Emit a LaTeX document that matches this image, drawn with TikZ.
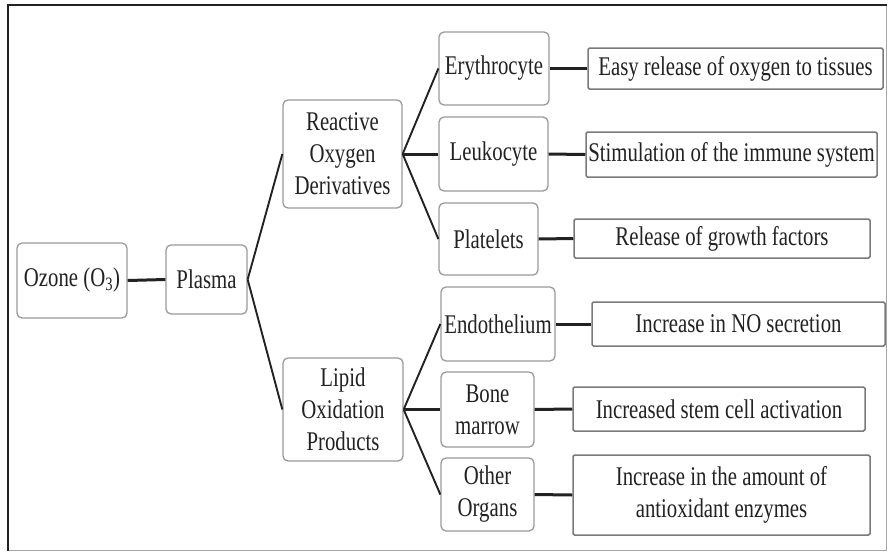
\documentclass[tikz,border=0pt]{standalone}
\usepackage{fontspec}
\setmainfont{Liberation Serif}[FakeStretch=0.77]
\definecolor{txt}{HTML}{222222}
\definecolor{boxline}{HTML}{9A9A9A}
\definecolor{leafline}{HTML}{7A7A7A}
\begin{document}
\begin{tikzpicture}[x=1pt,y=-1pt,
  every node/.style={font=\fontsize{27}{32}\selectfont, text=txt, align=center, inner sep=1pt},
  mid/.style={draw=boxline, line width=1.3pt, rounded corners=5pt, fill=white},
  leaf/.style={draw=leafline, line width=1.5pt, rounded corners=1.5pt, fill=white},
  thick conn/.style={draw=txt, line width=3pt},
  diag conn/.style={draw=txt, line width=1.9pt}]
\useasboundingbox (0,0) rectangle (889,552);
% frame
\draw[draw=gray!70, line width=1pt] (886,5) -- (886,550) -- (8,550);
\draw[draw=txt, line width=2.8pt] (8,551) -- (8,5) -- (887,5);
% level 1-2
\node[mid, minimum width=110pt, minimum height=75pt] (ozone) at (72,280.5) {Ozone (O\textsubscript{3})};
\node[mid, minimum width=81pt, minimum height=69pt] (plasma) at (206.5,279.5) {Plasma};
% level 2
\node[mid, minimum width=119pt, minimum height=108pt] (rod) at (342.5,154) {Reactive\\Oxygen\\Derivatives};
\node[mid, minimum width=120pt, minimum height=103pt] (lop) at (343,409.5) {Lipid\\Oxidation\\Products};
% level 3
\node[mid, minimum width=110pt, minimum height=73pt] (ery) at (494,68.5) {Erythrocyte};
\node[mid, minimum width=109pt, minimum height=74pt] (leu) at (493.5,154) {Leukocyte};
\node[mid, minimum width=99pt, minimum height=72pt] (pla) at (488.5,239) {Platelets};
\node[mid, minimum width=114pt, minimum height=74pt] (endo) at (498,324) {Endothelium};
\node[mid, minimum width=93pt, minimum height=75pt] (bone) at (487.5,409.5) {Bone\\marrow};
\node[mid, minimum width=93pt, minimum height=73pt] (other) at (487.5,494.5) {Other\\Organs};
% level 4
\node[leaf, minimum width=295pt, minimum height=41pt] (easy) at (735.5,68.5) {Easy release of oxygen to tissues};
\node[leaf, minimum width=291pt, minimum height=45pt] (stim) at (731.5,154.5) {Stimulation of the immune system};
\node[leaf, minimum width=296pt, minimum height=39pt] (rel) at (722,238.5) {Release of growth factors};
\node[leaf, minimum width=293pt, minimum height=44pt] (no) at (738.5,324) {Increase in NO secretion};
\node[leaf, minimum width=292pt, minimum height=44pt] (stem) at (719,409) {Increased stem cell activation};
\node[leaf, minimum width=297pt, minimum height=80pt] (amt) at (721.5,495) {Increase in the amount of\\antioxidant enzymes};
% connectors
\draw[thick conn] (ozone.east) -- (plasma.west);
\draw[diag conn] (plasma.east) -- (rod.west);
\draw[diag conn] (plasma.east) -- (lop.west);
\draw[diag conn] (rod.east) -- (ery.west);
\draw[thick conn] (rod.east) -- (leu.west);
\draw[diag conn] (rod.east) -- (pla.west);
\draw[diag conn] (lop.east) -- (endo.west);
\draw[thick conn] (lop.east) -- (bone.west);
\draw[diag conn] (lop.east) -- (other.west);
\draw[thick conn] (ery.east) -- (easy.west);
\draw[thick conn] (leu.east) -- (stim.west);
\draw[thick conn] (pla.east) -- (rel.west);
\draw[thick conn] (endo.east) -- (no.west);
\draw[thick conn] (bone.east) -- (stem.west);
\draw[thick conn] (other.east) -- (amt.west);
\end{tikzpicture}
\end{document}
